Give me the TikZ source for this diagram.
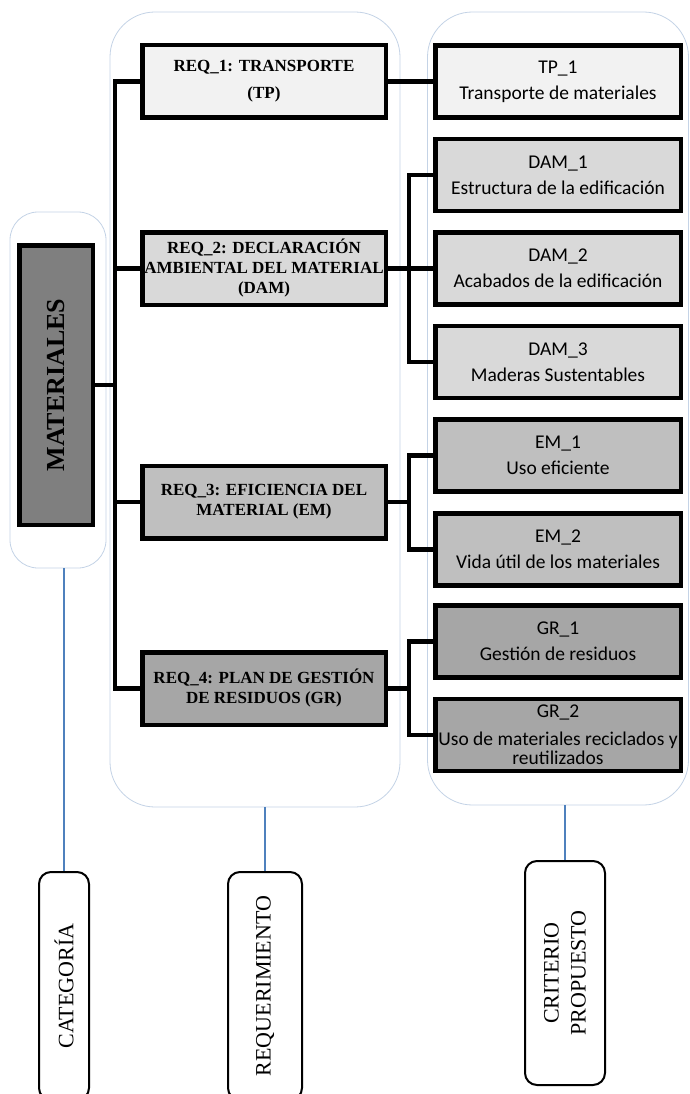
\documentclass[tikz,border=0pt]{standalone}
\usepackage{fontspec}
\setmainfont{Liberation Serif}
\newfontfamily\critfont{Carlito}
\usepackage{tikz}
\pgfdeclarelayer{bg}
\pgfsetlayers{bg,main}
\definecolor{tpfill}{HTML}{F2F2F2}
\definecolor{damfill}{HTML}{D9D9D9}
\definecolor{emfill}{HTML}{BFBFBF}
\definecolor{grfill}{HTML}{A6A6A6}
\definecolor{matfill}{HTML}{7F7F7F}
\definecolor{panelline}{RGB}{196,211,230}
\definecolor{tieblue}{RGB}{79,129,189}
\tikzset{
    every node/.style={rectangle, inner sep=0pt, draw, line width=4.5pt}
}
\tikzset{
    reqbox/.style={minimum width=243.5pt, minimum height=72.5pt, align=center,
        font=\fontsize{17}{20}\selectfont\bfseries},
    critbox/.style={minimum width=245.5pt, minimum height=72pt, align=center,
        font=\critfont\fontsize{19.5}{26}\selectfont},
    panel/.style={draw=panelline, line width=0.8pt, fill=white, rounded corners=45pt},
    labbox/.style={line width=2pt, rounded corners=12pt, rotate=90, minimum width=228pt,
        align=center, font=\fontsize{22}{27}\selectfont},
    link/.style={line width=4.5pt},
    tie/.style={draw=tieblue, line width=1.5pt}
}

\begin{document}
\begin{tikzpicture}
    \useasboundingbox (0pt, 0pt) rectangle (689pt, -1094pt);

    \node (mat) [fill=matfill, rotate=90, minimum width=279.5pt, minimum height=73.5pt,
        font=\fontsize{26}{30}\selectfont\bfseries] at (56pt, -385pt) {MATERIALES};

    \node (req1) [reqbox, fill=tpfill] at (264pt, -81.5pt) {REQ\_1: TRANSPORTE\\[7pt](TP)};
    \node (req2) [reqbox, fill=damfill] at (264pt, -268.5pt) {REQ\_2: DECLARACIÓN\\AMBIENTAL DEL MATERIAL\\(DAM)};
    \node (req3) [reqbox, fill=emfill] at (264pt, -502pt) {REQ\_3: EFICIENCIA DEL\\MATERIAL (EM)};
    \node (req4) [reqbox, fill=grfill] at (264pt, -688.5pt) {REQ\_4: PLAN DE GESTIÓN\\DE RESIDUOS (GR)};

    \node (tp1) [critbox, fill=tpfill] at (558pt, -81.5pt) {TP\_1\\Transporte de materiales};
    \node (dam1) [critbox, fill=damfill] at (558pt, -175pt) {DAM\_1\\Estructura de la edificación};
    \node (dam2) [critbox, fill=damfill] at (558pt, -268.5pt) {DAM\_2\\Acabados de la edificación};
    \node (dam3) [critbox, fill=damfill] at (558pt, -362pt) {DAM\_3\\Maderas Sustentables};
    \node (em1) [critbox, fill=emfill] at (558pt, -455.5pt) {EM\_1\\Uso eficiente};
    \node (em2) [critbox, fill=emfill] at (558pt, -549.5pt) {EM\_2\\Vida útil de los materiales};
    \node (gr1) [critbox, fill=grfill] at (558pt, -641.5pt) {GR\_1\\Gestión de residuos};
    \node (gr2) [critbox, fill=grfill] at (558pt, -735pt) {GR\_2\\[2pt]Uso de materiales reciclados y\\[-7pt]reutilizados};

    \node (catlab) [labbox, minimum height=50pt] at (64pt, -986pt) {CATEGORÍA};
    \node (reqlab) [labbox, minimum height=74pt] at (265pt, -986pt) {REQUERIMIENTO};
    \node (critlab) [labbox, minimum width=224pt, minimum height=80pt] at (565pt, -973pt) {CRITERIO\\PROPUESTO};

    \coordinate (spine) at (117.25pt, -385pt);
    \coordinate (emjoin) at (411pt, -502pt);
    \coordinate (grjoin) at (411pt, -688.5pt);

    \begin{pgfonlayer}{bg}
        \node (catpanel) [panel, rounded corners=28pt, minimum width=96pt, minimum height=356pt] at (58pt, -390pt) {};
        \node (reqpanel) [panel, minimum width=290pt, minimum height=795pt] at (255pt, -409.5pt) {};
        \node (critpanel) [panel, minimum width=261pt, minimum height=793pt] at (558pt, -408.5pt) {};

        \draw[tie] (catlab.east |- catpanel.south) -- (catlab.east);
        \draw[tie] (reqlab.east |- reqpanel.south) -- (reqlab.east);
        \draw[tie] (critlab.east |- critpanel.south) -- (critlab.east);

        \draw[link] (req1.west) -- ++(-25pt, 0pt) |- (req4.west);
        \draw[link] (mat.south) -- (spine);
        \draw[link] (req2.west) -- (req2.west -| spine);
        \draw[link] (req3.west) -- (req3.west -| spine);

        \draw[link] (req1.east) -- (tp1.west);
        \draw[link] (dam1.west) -- ++(-24pt, 0pt) |- (dam3.west);
        \draw[link] (req2.east) -- (dam2.west);
        \draw[link] (em1.west) -- ++(-24pt, 0pt) |- (em2.west);
        \draw[link] (req3.east) -- (emjoin);
        \draw[link] (gr1.west) -- ++(-24pt, 0pt) |- (gr2.west);
        \draw[link] (req4.east) -- (grjoin);
    \end{pgfonlayer}
\end{tikzpicture}
\end{document}
